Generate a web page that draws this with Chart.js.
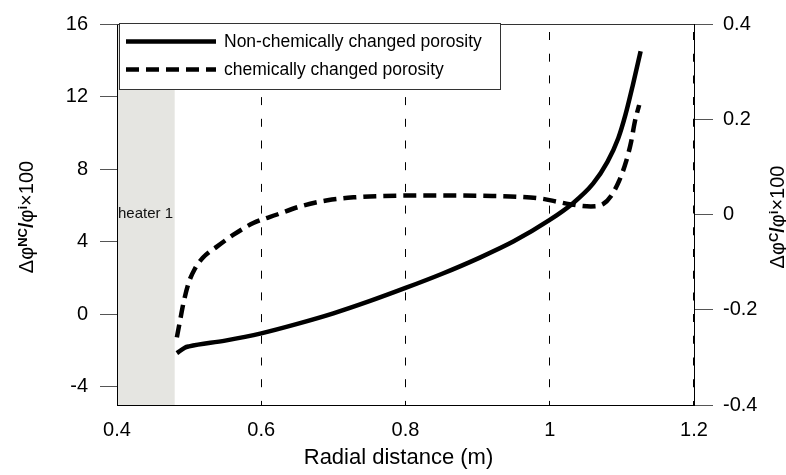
<!DOCTYPE html>
<html>
<head>
<meta charset="utf-8">
<script src="https://cdn.jsdelivr.net/npm/chart.js@4.4.0/dist/chart.umd.min.js"></script>
<style>
  html, body { margin: 0; padding: 0; background: #fff; }
</style>
</head>
<body>
<canvas id="myChart" width="786" height="475"></canvas>
<script>
// radial distance (m) and porosity change
const radialNC = [0.483, 0.494, 0.5, 0.55, 0.6, 0.65, 0.7, 0.75, 0.8, 0.85, 0.9, 0.95, 1.0, 1.03, 1.06, 1.08, 1.095, 1.105, 1.115, 1.126];
const porosityNC = [-2.14, -1.84, -1.77, -1.45, -1.05, -0.53, 0.05, 0.72, 1.45, 2.22, 3.07, 4.02, 5.2, 6.05, 7.2, 8.4, 9.7, 11.0, 12.6, 14.5];

const radialC = [0.483, 0.4875, 0.492, 0.499, 0.508, 0.519, 0.539, 0.561, 0.589, 0.622, 0.654, 0.692, 0.728, 0.77, 0.85, 0.92, 0.96, 0.99, 1.01, 1.03, 1.057, 1.074, 1.085, 1.096, 1.106, 1.113, 1.118, 1.124];
const porosityC = [-0.258, -0.222, -0.187, -0.145, -0.114, -0.091, -0.067, -0.043, -0.018, 0.0, 0.017, 0.03, 0.036, 0.039, 0.040, 0.039, 0.037, 0.033, 0.027, 0.021, 0.017, 0.022, 0.039, 0.07, 0.112, 0.154, 0.195, 0.23];

const seriesLabels = ['Non-chemically changed porosity', 'chemically changed porosity'];
const xTicks = [0.4, 0.6, 0.8, 1, 1.2];
const leftTicks = [-4, 0, 4, 8, 12, 16];
const rightTicks = [-0.4, -0.2, 0, 0.2, 0.4];
const heaterRange = [0.4, 0.48];
const heaterLabel = 'heater 1';

const FONT = '"Liberation Sans", Arial, sans-serif';
const DASH = [13, 7];

// rotated axis title with super-scripts
function drawRotTitle(ctx, cx, cy, parts) {
    ctx.save();
    ctx.translate(cx, cy);
    ctx.rotate(-Math.PI / 2);
    ctx.textBaseline = 'alphabetic';
    ctx.textAlign = 'left';
    let total = 0;
    parts.forEach(p => {
        ctx.font = (p.bold ? 'bold ' : '') + p.size + 'px ' + FONT;
        p.w = ctx.measureText(p.t).width;
        total += p.w;
    });
    let u = -total / 2;
    parts.forEach(p => {
        ctx.font = (p.bold ? 'bold ' : '') + p.size + 'px ' + FONT;
        ctx.fillStyle = '#000';
        ctx.fillText(p.t, u, -(p.raise || 0));
        u += p.w;
    });
    ctx.restore();
}

const decorations = {
    id: 'decorations',
    beforeDraw(chart) {
        const {ctx, chartArea, scales} = chart;
        const x0 = scales.x.getPixelForValue(heaterRange[0]);
        const x1 = scales.x.getPixelForValue(heaterRange[1]);
        ctx.save();
        ctx.fillStyle = '#e5e5e1';
        ctx.fillRect(x0, chartArea.top, x1 - x0, chartArea.bottom - chartArea.top);
        ctx.beginPath();
        ctx.rect(x0, chartArea.top, x1 - x0, chartArea.bottom - chartArea.top);
        ctx.clip();
        ctx.fillStyle = '#111';
        ctx.font = '15px ' + FONT;
        ctx.textBaseline = 'middle';
        ctx.fillText(heaterLabel, x0 + 1, 214);
        ctx.restore();
    },
    afterDraw(chart) {
        const {ctx, chartArea} = chart;
        ctx.save();
        // top frame line
        ctx.strokeStyle = '#333';
        ctx.lineWidth = 1;
        ctx.beginPath();
        ctx.moveTo(chartArea.left, chartArea.top + 0.5);
        ctx.lineTo(chartArea.right, chartArea.top + 0.5);
        ctx.stroke();

        // legend box
        ctx.fillStyle = '#fff';
        ctx.fillRect(119.5, 23.5, 381, 66);
        ctx.strokeStyle = '#333';
        ctx.strokeRect(119.5, 23.5, 381, 66);
        ctx.strokeStyle = '#000';
        ctx.lineWidth = 4.5;
        ctx.beginPath();
        ctx.moveTo(126, 41.5);
        ctx.lineTo(216, 41.5);
        ctx.stroke();
        ctx.setLineDash(DASH);
        ctx.beginPath();
        ctx.moveTo(126, 69.5);
        ctx.lineTo(216, 69.5);
        ctx.stroke();
        ctx.setLineDash([]);
        ctx.fillStyle = '#000';
        ctx.font = '17.5px ' + FONT;
        ctx.textBaseline = 'middle';
        ctx.fillText(seriesLabels[0], 224, 42);
        ctx.fillText(seriesLabels[1], 224, 70);

        // x axis title
        ctx.font = '22px ' + FONT;
        ctx.textAlign = 'center';
        ctx.fillText('Radial distance (m)', 398.5, 458);
        ctx.restore();

        drawRotTitle(ctx, 33, 217, [
            {t: 'Δφ', size: 20},
            {t: 'NC', size: 13, bold: true, raise: 6},
            {t: '/', size: 20, bold: true},
            {t: 'φ', size: 20},
            {t: 'i', size: 13, bold: true, raise: 6},
            {t: '×100', size: 20}
        ]);
        drawRotTitle(ctx, 784, 217, [
            {t: 'Δφ', size: 20},
            {t: 'C', size: 13, bold: true, raise: 6},
            {t: '/', size: 20, bold: true},
            {t: 'φ', size: 20},
            {t: 'i', size: 13, bold: true, raise: 6},
            {t: '×100', size: 20}
        ]);
    }
};

const ctx = document.getElementById('myChart').getContext('2d');

const myChart = new Chart(ctx, {
    type: 'scatter',
    data: {
        datasets: [
            {
                label: seriesLabels[0],
                data: radialNC.map((x, i) => ({x: x, y: porosityNC[i]})),
                yAxisID: 'y',
                showLine: true,
                borderColor: '#000',
                backgroundColor: '#000',
                borderWidth: 4.5,
                pointRadius: 0,
                cubicInterpolationMode: 'monotone'
            },
            {
                label: seriesLabels[1],
                data: radialC.map((x, i) => ({x: x, y: porosityC[i]})),
                yAxisID: 'y1',
                showLine: true,
                borderColor: '#000',
                backgroundColor: '#000',
                borderWidth: 4.5,
                borderDash: DASH,
                pointRadius: 0,
                cubicInterpolationMode: 'monotone'
            }
        ]
    },
    options: {
        responsive: false,
        animation: false,
        layout: {padding: {top: 22, left: 0, right: 0, bottom: 0}},
        plugins: {
            legend: {display: false},
            tooltip: {enabled: false}
        },
        scales: {
            x: {
                type: 'linear',
                min: 0.4,
                max: 1.2,
                afterBuildTicks: s => { s.ticks = xTicks.map(v => ({value: v})); },
                afterFit: s => { s.height = 70; },
                ticks: {
                    color: '#000',
                    padding: 13,
                    font: {size: 20, family: FONT},
                    callback: v => String(v)
                },
                grid: {
                    color: c => (c.tick && c.tick.value === 0.4) ? 'rgba(0,0,0,0)' : '#000',
                    lineWidth: c => (c.tick && c.tick.value === 1.2) ? 2 : 1,
                    drawTicks: false
                },
                border: {color: '#000', width: 1, dash: [8, 13.7], dashOffset: -8}
            },
            y: {
                position: 'left',
                min: -5,
                max: 16,
                afterBuildTicks: s => { s.ticks = leftTicks.map(v => ({value: v})); },
                afterFit: s => { s.width = 117; },
                ticks: {
                    color: '#000',
                    padding: 12,
                    font: {size: 20, family: FONT},
                    callback: v => String(v)
                },
                grid: {drawOnChartArea: false, drawTicks: true, tickLength: 17, color: '#555'},
                border: {color: '#000', width: 1}
            },
            y1: {
                position: 'right',
                min: -0.4,
                max: 0.4,
                afterBuildTicks: s => { s.ticks = rightTicks.map(v => ({value: v})); },
                afterFit: s => { s.width = 92; },
                ticks: {
                    color: '#000',
                    padding: 10,
                    font: {size: 20, family: FONT},
                    callback: v => String(v)
                },
                grid: {drawOnChartArea: false, drawTicks: true, tickLength: 19, color: '#555'},
                border: {color: '#000', width: 1}
            }
        }
    },
    plugins: [decorations]
});
</script>
</body>
</html>
